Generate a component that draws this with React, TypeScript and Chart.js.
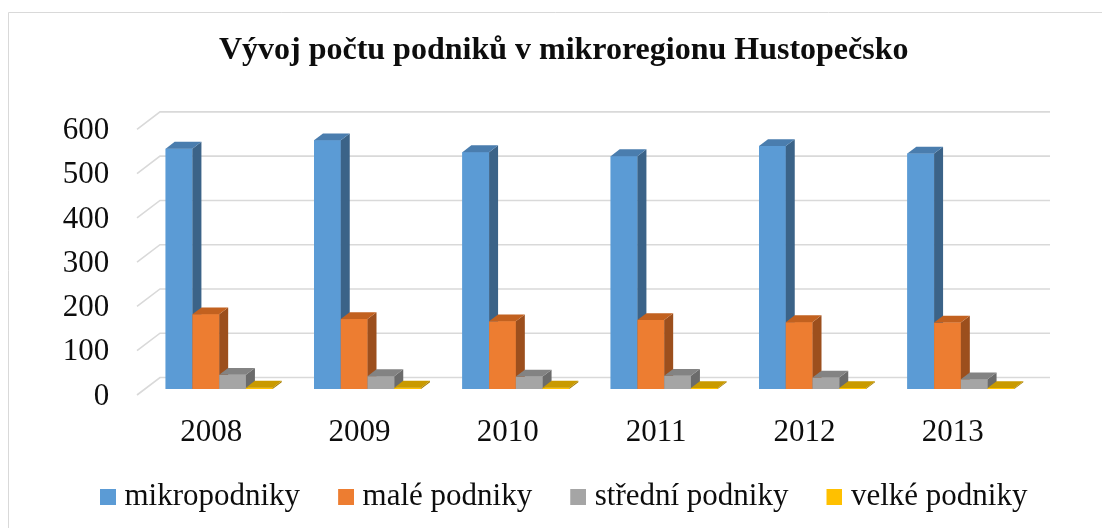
import React, { useEffect, useRef } from "react";
import { Chart, registerables } from "chart.js";

Chart.register(...registerables);

const years = ["2008", "2009", "2010", "2011", "2012", "2013"];
const mikropodniky = [543, 562, 535, 526, 549, 532];
const malePodniky = [169, 158, 153, 156, 151, 150];
const stredniPodniky = [32, 29, 28, 30, 26, 22];
const velkePodniky = [3, 3, 3, 2, 2, 2];
const seriesNames = ["mikropodniky", "malé podniky", "střední podniky", "velké podniky"];
const titleText = "Vývoj počtu podniků v mikroregionu Hustopečsko";
const yMin = 0;
const yMax = 600;
const yStep = 100;

const FONT = "'Liberation Serif', 'Times New Roman', serif";

const shades = [
  { front: "#5B9BD5", side: "#3B6388", top: "#4A7DAE" },
  { front: "#ED7D31", side: "#9C4F1D", top: "#C2611F" },
  { front: "#A5A5A5", side: "#6B6B6B", top: "#838383" },
  { front: "#FFC000", side: "#A67D00", top: "#C99A00" },
];

// depth offsets (bar depth and wall depth)
const BAR_DX = 9;
const BAR_DY = 6.8;
const FRONT_DX = -8; // bar plane -> front plane
const FRONT_DY = 6;
const BACK_DX = 15; // bar plane -> back wall
const BACK_DY = -11.5;

function makeSwatch(color: string) {
  const c = document.createElement("canvas");
  c.width = 23;
  c.height = 16;
  const g = c.getContext("2d")!;
  g.fillStyle = color;
  g.fillRect(7, 0, 16, 16);
  return c;
}

const threeDPlugin = {
  id: "threeD",
  beforeDraw(chart: any) {
    const ctx = chart.ctx;
    ctx.save();
    ctx.strokeStyle = "#d9d9d9";
    ctx.lineWidth = 1;
    ctx.beginPath();
    ctx.moveTo(8.5, chart.height);
    ctx.lineTo(8.5, 12.5);
    ctx.lineTo(chart.width, 12.5);
    ctx.stroke();
    ctx.restore();
  },
  beforeDatasetsDraw(chart: any) {
    const ctx = chart.ctx;
    const ys = chart.scales.y;
    const area = chart.chartArea;
    ctx.save();
    ctx.strokeStyle = "#d9d9d9";
    ctx.lineWidth = 1.6;
    ys.ticks.forEach((t: any) => {
      const py = ys.getPixelForValue(t.value);
      const fx = area.left + FRONT_DX;
      const fy = py + FRONT_DY;
      const bx = area.left + BACK_DX;
      const by = py + BACK_DY;
      ctx.beginPath();
      ctx.moveTo(fx, fy);
      ctx.lineTo(bx, by);
      ctx.lineTo(area.right + BACK_DX, by);
      ctx.stroke();
    });
    ctx.restore();
  },
  afterDatasetsDraw(chart: any) {
    const ctx = chart.ctx;
    const n = chart.data.labels.length;
    ctx.save();
    for (let i = 0; i < n; i++) {
      for (let d = 0; d < chart.data.datasets.length; d++) {
        const meta = chart.getDatasetMeta(d);
        const el = meta.data[i];
        if (!el) continue;
        const { x, y, base, width } = el.getProps(["x", "y", "base", "width"], true);
        const l = x - width / 2;
        const r = x + width / 2;
        const s = shades[d];
        ctx.fillStyle = s.front;
        ctx.fillRect(l, y, width, base - y);
        ctx.fillStyle = s.side;
        ctx.beginPath();
        ctx.moveTo(r, y);
        ctx.lineTo(r + BAR_DX, y - BAR_DY);
        ctx.lineTo(r + BAR_DX, base - BAR_DY);
        ctx.lineTo(r, base);
        ctx.closePath();
        ctx.fill();
        ctx.fillStyle = s.top;
        ctx.beginPath();
        ctx.moveTo(l, y);
        ctx.lineTo(l + BAR_DX, y - BAR_DY);
        ctx.lineTo(r + BAR_DX, y - BAR_DY);
        ctx.lineTo(r, y);
        ctx.closePath();
        ctx.fill();
      }
    }
    ctx.restore();
  },
};

export default function App() {
  const ref = useRef<HTMLCanvasElement | null>(null);
  useEffect(() => {
    if (!ref.current) return;
    const values = [mikropodniky, malePodniky, stredniPodniky, velkePodniky];
    const chart = new Chart(ref.current, {
      type: "bar",
      data: {
        labels: years,
        datasets: values.map((v, i) => ({
          label: seriesNames[i],
          data: v,
          yAxisID: "y",
          backgroundColor: shades[i].front,
          borderWidth: 0,
          barPercentage: 1,
          categoryPercentage: 0.7214,
        })),
      },
      options: {
        responsive: false,
        animation: false,
        layout: { padding: { left: 60, right: 34.6, top: 0, bottom: 5.2 } },
        scales: {
          x: {
            grid: { display: false, drawTicks: false },
            border: { display: false },
            ticks: {
              font: { family: FONT, size: 31 },
              color: "#0d0d0d",
              padding: 25.7,
              labelOffset: FRONT_DX,
            },
            afterFit: (s: any) => {
              s.height = 54.8;
            },
          },
          y: {
            position: "left",
            min: yMin,
            max: yMax,
            grid: { display: false, drawTicks: false },
            border: { display: false },
            ticks: {
              stepSize: yStep,
              font: { family: FONT, size: 31 },
              color: "#0d0d0d",
              padding: 35.7,
              labelOffset: 7.6,
            },
            afterFit: (s: any) => {
              s.width = 85;
            },
          },
          spacer: {
            type: "linear",
            position: "right",
            display: true,
            grid: { display: false, drawTicks: false },
            border: { display: false },
            ticks: { display: false },
            afterFit: (s: any) => {
              s.width = 32.4;
            },
          },
        },
        plugins: {
          tooltip: { enabled: false },
          title: {
            display: true,
            text: titleText,
            color: "#0d0d0d",
            font: { family: FONT, size: 32, weight: "bold" },
            padding: { top: 31.7, bottom: 53.3 },
          },
          legend: {
            position: "bottom",
            labels: {
              usePointStyle: true,
              boxWidth: 9,
              boxHeight: 16,
              padding: 38,
              color: "#0d0d0d",
              font: { family: FONT, size: 31 },
              sort: (a: any, b: any) => a.datasetIndex - b.datasetIndex,
              generateLabels: (c: any) =>
                (Chart.defaults.plugins.legend.labels.generateLabels as any)(c).map((item: any) => ({
                  ...item,
                  pointStyle: makeSwatch(shades[item.datasetIndex].front),
                  rotation: 0,
                })),
            },
          },
        },
      },
      plugins: [threeDPlugin],
    } as any);
    return () => chart.destroy();
  }, []);
  return (
    <div style={{ position: "fixed", left: 0, top: 0, width: 1102, height: 528, background: "#fff" }}>
      <canvas ref={ref} width={1102} height={528} style={{ display: "block" }} />
    </div>
  );
}
